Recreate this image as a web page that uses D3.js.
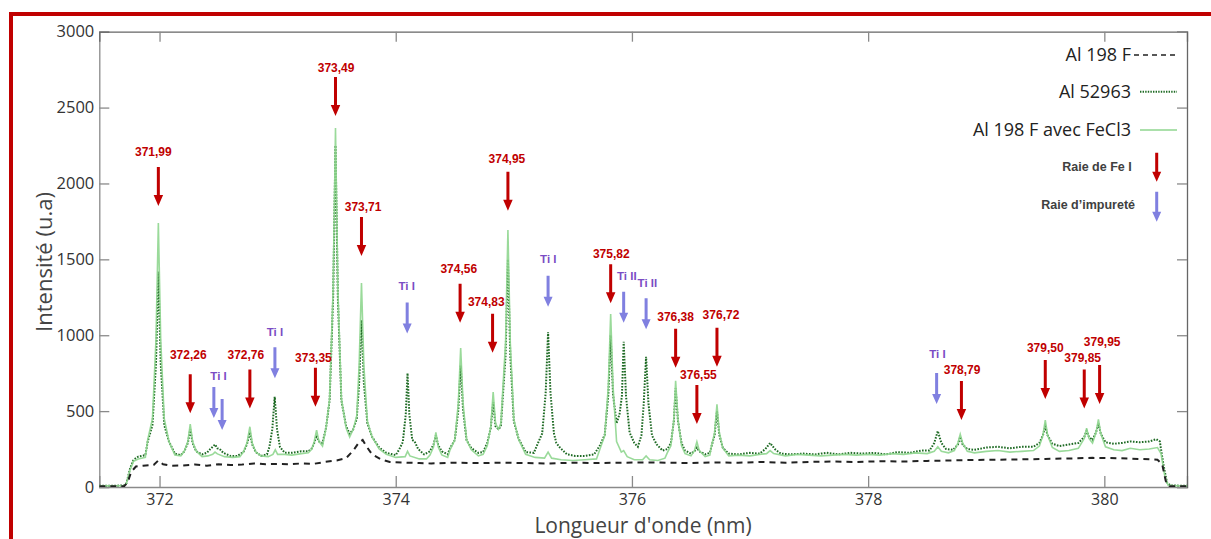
<!DOCTYPE html>
<html><head><meta charset="utf-8">
<script src="https://cdn.jsdelivr.net/npm/d3@7/dist/d3.min.js"></script>
<style>body{margin:0;background:#fff}svg{display:block}</style>
</head><body>
<svg id="chart" width="1211" height="539"></svg>
<script>
// ---- data ----
const xTicks = [372, 374, 376, 378, 380];
const yTicks = [0, 500, 1000, 1500, 2000, 2500, 3000];
const seriesNames = ["Al 198 F", "Al 52963", "Al 198 F avec FeCl3"];

// Al 198 F (dashed black)
const al198 = [[371.49,5],[371.70,5],[371.73,30],[371.76,100],[371.80,135],[371.86,140],[371.95,145],[371.99,175],[372.03,150],[372.1,140],[372.2,142],[372.3,148],[372.4,140],[372.5,150],[372.6,145],[372.7,148],[372.8,155],[372.9,150],[373.0,152],[373.1,150],[373.2,155],[373.3,152],[373.4,165],[373.5,175],[373.58,190],[373.64,240],[373.69,295],[373.72,310],[373.75,270],[373.8,215],[373.88,180],[373.95,165],[374.1,160],[374.2,158],[374.3,155],[374.5,160],[374.7,158],[374.9,160],[375.1,158],[375.3,155],[375.5,160],[375.7,158],[375.9,160],[376.1,162],[376.3,160],[376.5,158],[376.7,162],[376.9,160],[377.1,165],[377.3,160],[377.5,165],[377.7,168],[377.9,165],[378.1,170],[378.3,168],[378.5,172],[378.7,175],[378.9,178],[379.1,180],[379.3,182],[379.5,185],[379.7,188],[379.9,192],[380.1,190],[380.3,185],[380.45,180],[380.49,150],[380.52,40],[380.55,5],[380.70,5]];

// Al 52963 (dotted dark green)
const al52963 = [[371.49,8],[371.6,8],[371.70,10],[371.72,25],[371.75,120],[371.78,180],[371.82,200],[371.88,210],
[371.90,299],[371.94,408],[371.97,817],[371.99,1420],[372.01,817],[372.04,408],[372.08,299],
[372.13,220],[372.18,210],
[372.21,235],[372.24,290],[372.26,380],[372.28,290],[372.31,235],
[372.36,215],[372.40,225],
[372.43,250],[372.45,265],[372.47,280],[372.49,255],[372.51,250],[372.54,225],
[372.60,205],[372.66,205],
[372.71,230],[372.74,280],[372.765,360],[372.785,280],[372.815,230],
[372.86,205],[372.91,215],
[372.93,263],[372.955,380],[372.975,595],[372.995,380],[373.02,263],[373.06,225],
[373.12,225],[373.2,235],[373.26,235],
[373.29,255],[373.31,290],[373.33,340],[373.35,300],[373.38,290],
[373.41,390],[373.44,570],[373.47,1250],[373.49,2250],[373.51,1250],[373.54,570],[373.58,400],
[373.61,350],
[373.64,380],[373.67,450],[373.69,685],[373.71,1100],[373.73,685],[373.76,420],[373.80,330],
[373.86,260],[373.92,225],[374.0,210],
[374.03,248],[374.06,296],[374.085,480],[374.10,750],[374.115,480],[374.14,310],[374.16,300],[374.19,250],
[374.24,215],
[374.29,235],[374.32,280],[374.34,340],[374.36,275],[374.39,235],
[374.44,215],
[374.46,256],[374.50,309],[374.53,507],[374.55,800],[374.57,507],[374.60,309],[374.64,256],
[374.70,225],[374.74,230],
[374.775,290],[374.805,390],[374.825,560],[374.845,400],[374.87,380],
[374.89,400],[374.93,865],[374.95,1500],[374.97,865],[375.00,433],[375.04,319],
[375.10,230],[375.17,225],
[375.20,281],[375.24,352],[375.27,623],[375.29,1020],[375.31,623],[375.34,352],[375.36,290],[375.39,260],
[375.45,215],[375.52,205],[375.6,205],[375.68,215],
[375.73,275],[375.77,345],[375.80,610],[375.82,1000],[375.84,610],[375.87,420],
[375.895,480],[375.915,598],[375.93,957],[375.95,598],[375.98,360],[376.02,290],[376.05,265],
[376.08,339],[376.10,549],[376.12,858],[376.14,549],[376.17,339],[376.21,280],[376.26,240],
[376.30,250],[376.33,289],[376.355,435],[376.37,650],[376.39,435],[376.42,289],[376.45,240],
[376.50,220],
[376.53,235],[376.55,260],[376.57,235],
[376.62,215],[376.66,225],
[376.67,257],[376.70,343],[376.72,500],[376.74,343],[376.77,257],
[376.82,220],[376.9,215],[377.0,225],[377.08,220],[377.13,250],[377.17,290],[377.21,250],[377.26,220],[377.35,215],[377.45,220],[377.55,215],[377.65,225],[377.75,215],[377.85,225],[377.95,220],[378.05,225],[378.15,215],[378.25,230],[378.35,225],[378.45,240],[378.52,240],[378.56,290],[378.59,369],[378.62,290],[378.66,250],[378.72,245],
[378.76,280],[378.78,330],[378.80,280],[378.84,250],
[378.9,245],[379.0,260],[379.1,265],[379.2,255],[379.3,265],[379.4,265],[379.45,290],
[379.48,340],[379.50,400],[379.52,340],[379.56,285],
[379.62,270],[379.7,280],[379.78,290],
[379.83,330],[379.85,370],[379.87,330],[379.90,310],
[379.93,360],[379.95,420],[379.97,350],[380.01,295],
[380.08,285],[380.15,290],[380.22,300],[380.3,295],[380.38,300],[380.44,315],[380.47,300],[380.50,150],[380.53,30],[380.56,10],[380.70,8]];

// Al 198 F avec FeCl3 (solid light green)
const al198FeCl3 = [[371.49,8],[371.6,8],[371.70,10],[371.72,25],[371.75,110],[371.78,170],[371.82,185],[371.88,195],
[371.90,312],[371.94,450],[371.97,972],[371.99,1739],[372.01,972],[372.04,450],[372.08,300],
[372.13,210],[372.18,205],
[372.21,237],[372.24,300],[372.26,415],[372.28,300],[372.31,237],
[372.36,200],[372.41,205],
[372.45,215],[372.47,230],[372.49,218],
[372.55,200],[372.62,195],[372.68,200],
[372.71,230],[372.74,289],[372.765,397],[372.785,289],[372.815,230],
[372.86,205],[372.92,200],
[372.96,215],[372.98,245],[373.0,215],
[373.06,215],[373.12,210],[373.2,220],[373.26,225],
[373.29,250],[373.31,300],[373.33,375],[373.35,300],[373.38,270],
[373.41,389],[373.44,580],[373.47,1302],[373.49,2365],[373.51,1302],[373.54,580],[373.58,389],
[373.61,330],
[373.64,380],[373.67,470],[373.69,802],[373.71,1344],[373.73,802],[373.76,433],[373.80,330],
[373.86,250],[373.92,215],[374.0,195],
[374.08,200],[374.10,235],[374.12,205],
[374.2,185],[374.26,185],
[374.29,211],[374.32,264],[374.34,360],[374.36,264],[374.39,211],
[374.44,195],
[374.46,245],[374.50,310],[374.53,555],[374.55,915],[374.57,555],[374.60,310],[374.64,245],
[374.70,205],[374.74,215],
[374.775,272],[374.805,397],[374.825,625],[374.845,420],[374.87,380],
[374.89,420],[374.93,951],[374.95,1693],[374.97,951],[375.00,447],[375.04,314],
[375.10,215],[375.18,195],[375.26,190],
[375.29,230],[375.32,190],
[375.4,180],[375.5,175],[375.6,180],[375.7,185],
[375.73,252],[375.77,338],[375.80,663],[375.82,1140],[375.84,663],[375.87,300],[375.91,230],
[375.93,240],[375.96,200],
[376.02,180],[376.09,180],[376.12,205],[376.15,180],[376.22,175],[376.28,190],
[376.30,226],[376.33,272],[376.355,445],[376.37,700],[376.39,445],[376.42,272],[376.45,220],
[376.50,205],
[376.53,240],[376.55,298],[376.57,240],
[376.62,200],[376.66,210],
[376.67,256],[376.70,358],[376.72,545],[376.74,358],[376.77,256],
[376.82,205],[376.9,210],[377.0,205],[377.08,215],[377.14,220],[377.17,240],[377.2,220],[377.3,205],[377.4,215],[377.5,210],[377.6,205],[377.7,210],[377.8,215],[377.9,210],[378.0,215],[378.1,210],[378.2,220],[378.3,215],[378.4,225],[378.5,220],[378.56,235],[378.59,265],[378.62,235],[378.68,225],[378.73,240],
[378.76,290],[378.78,347],[378.80,290],[378.84,235],
[378.9,225],[379.0,235],[379.1,240],[379.2,230],[379.3,235],[379.4,240],[379.45,270],
[379.48,340],[379.50,441],[379.52,340],[379.56,260],
[379.62,235],[379.7,240],[379.78,255],
[379.83,320],[379.85,387],[379.87,320],[379.90,290],
[379.93,360],[379.95,446],[379.97,350],[380.01,265],
[380.08,245],[380.15,240],[380.22,255],[380.3,245],[380.38,250],[380.45,260],[380.48,220],[380.51,80],[380.54,12],[380.6,8],[380.70,8]];

// Fe I line annotations: wavelength, label, arrow tip intensity
const feLines = [[371.99,"371,99",1851],[372.26,"372,26",486],[372.765,"372,76",518],[373.32,"373,35",529],[373.49,"373,49",2444],[373.71,"373,71",1522],[374.545,"374,56",1082],[374.82,"374,83",885],[374.95,"374,95",1820],[375.82,"375,82",1210],[376.37,"376,38",786],[376.55,"376,55",415],[376.72,"376,72",792],[378.79,"378,79",441],[379.50,"379,50",580],[379.83,"379,85",518],[379.96,"379,95",547]];
// impurity line annotations: wavelength, label, arrow tip intensity
const tiLines = [[372.46,"Ti I",455],[372.53,"",375],[372.977,"Ti I",716],[374.097,"Ti I",1012],[375.29,"Ti I",1188],[375.93,"Ti II",1082],[376.12,"Ti II",1039],[378.58,"Ti I",547]];
// label offsets (layout): dx, dy above arrow top
const feLabelOffsets = [[-5,15],[-2,19],[-4,15],[-2,10],[0.6,9],[1.6,10.6],[-1.3,15],[-6.3,11.7],[-1,13.4],[0.6,10.7],[0,11.6],[1.5,10],[4,13],[0.7,11],[0,11.7],[-1.6,11.3],[2.6,22.7]];
const tiLabelOffsets = [[4.7,10.7],[0,0],[0,15],[-0.5,16.6],[0.2,16.7],[3.2,16],[1.3,15],[0.8,18.7]];

// ---- layout ----
const svg = d3.select("#chart");
const L = 99.3, R = 1187, T = 31.7, B = 487;
const x = d3.scaleLinear().domain([371.49, 380.70]).range([L, R]);
const y = d3.scaleLinear().domain([0, 3000]).range([B, T]);

// red frame
svg.append("rect").attr("x",9).attr("y",12).attr("width",1202).attr("height",4).attr("fill","#c00000");
svg.append("rect").attr("x",9).attr("y",12).attr("width",4).attr("height",527).attr("fill","#c00000");

svg.append("clipPath").attr("id","clip").append("rect").attr("x",L).attr("y",T).attr("width",R-L).attr("height",B-T);

// axes
const axColor = "#8a8a8a";
const gB = svg.append("g").attr("transform",`translate(0,${B})`).call(d3.axisBottom(x).tickValues(xTicks).tickSize(-11).tickPadding(6.5).tickFormat(d3.format("d")));
const gL = svg.append("g").attr("transform",`translate(${L},0)`).call(d3.axisLeft(y).tickValues(yTicks).tickSize(-10).tickPadding(5).tickFormat(d3.format("d")));
const gT = svg.append("g").attr("transform",`translate(0,${T})`).call(d3.axisTop(x).tickValues(xTicks).tickSize(-10).tickFormat(""));
const gR = svg.append("g").attr("transform",`translate(${R},0)`).call(d3.axisRight(y).tickValues(yTicks).tickSize(-10).tickFormat(""));
[gB,gL,gT,gR].forEach(g=>{
  g.select(".domain").attr("stroke",axColor).attr("stroke-width",1.3);
  g.selectAll(".tick line").attr("stroke",axColor).attr("stroke-width",1.3);
  g.selectAll(".tick text").attr("fill","#333").style("font-family","'Open Sans', sans-serif").style("font-size","16.5px");
});
gB.selectAll(".tick text").style("font-size","16px");
gT.select(".domain").attr("stroke","#666");
gR.select(".domain").attr("stroke","#666");

// titles
svg.append("text").attr("x",643).attr("y",533).attr("text-anchor","middle").attr("fill","#444")
  .style("font-family","'Open Sans', sans-serif").style("font-size","21px").text("Longueur d'onde (nm)");
svg.append("text").attr("transform","translate(44,262) rotate(-90)").attr("text-anchor","middle").attr("dy","0.35em").attr("fill","#444")
  .style("font-family","'Open Sans', sans-serif").style("font-size","22px").text("Intensité (u.a)");

// series
const line = d3.line().x(d=>x(d[0])).y(d=>y(d[1]));
const plot = svg.append("g").attr("clip-path","url(#clip)");
plot.append("path").datum(al52963).attr("d",line).attr("fill","none").attr("stroke","#1f6b25").attr("stroke-width",2).attr("stroke-dasharray","1.6,1.4");
plot.append("path").datum(al198FeCl3).attr("d",line).attr("fill","none").attr("stroke","#8fd68f").attr("stroke-width",1.6).attr("stroke-opacity",0.9);
plot.append("path").datum(al198).attr("d",line).attr("fill","none").attr("stroke","#222").attr("stroke-width",2).attr("stroke-dasharray","6,5");

// arrows
function arrow(g, cx, tipY, len, color, shaftW, headW, headH){
  const top = tipY - len;
  g.append("path").attr("d",
    `M${cx-shaftW/2},${top} L${cx+shaftW/2},${top} L${cx+shaftW/2},${tipY-headH} L${cx+headW/2},${tipY-headH} L${cx},${tipY} L${cx-headW/2},${tipY-headH} L${cx-shaftW/2},${tipY-headH} Z`)
   .attr("fill",color);
  return top;
}
const ann = svg.append("g");
feLines.forEach((d,i)=>{
  const cx = x(d[0]), tip = y(d[2]);
  const top = arrow(ann, cx, tip, 39, "#c00000", 3, 9.5, 11);
  const o = feLabelOffsets[i];
  ann.append("text").attr("x",cx+o[0]).attr("y",top-o[1]).attr("dy","0.35em").attr("text-anchor","middle")
    .attr("fill","#c00000").style("font-family","'Liberation Sans', Arial, sans-serif").style("font-weight","bold").style("font-size","12px").text(d[1]);
});
tiLines.forEach((d,i)=>{
  const cx = x(d[0]), tip = y(d[2]);
  const top = arrow(ann, cx, tip, 31, "#8080e0", 3, 9, 10);
  const o = tiLabelOffsets[i];
  if (d[1]) ann.append("text").attr("x",cx+o[0]).attr("y",top-o[1]).attr("dy","0.35em").attr("text-anchor","middle")
    .attr("fill","#7a4cc4").style("font-family","'Liberation Sans', Arial, sans-serif").style("font-weight","bold").style("font-size","11.5px").text(d[1]);
});

// legend
const leg = svg.append("g");
const legY = [55, 91.7, 130];
const legStyles = [
  {stroke:"#222", w:1.6, dash:"5,4"},
  {stroke:"#1f6b25", w:2, dash:"1.4,1.2"},
  {stroke:"#8fd68f", w:1.6, dash:null}
];
seriesNames.forEach((n,i)=>{
  leg.append("text").attr("x",1131).attr("y",legY[i]).attr("dy","0.35em").attr("text-anchor","end").attr("fill","#222")
    .style("font-family","'Open Sans', sans-serif").style("font-size","18px").text(n);
  const l = leg.append("line").attr("x1",i===0?1134:1140).attr("x2",1177).attr("y1",legY[i]).attr("y2",legY[i])
    .attr("stroke",legStyles[i].stroke).attr("stroke-width",legStyles[i].w);
  if (legStyles[i].dash) l.attr("stroke-dasharray",legStyles[i].dash);
});
leg.append("text").attr("x",1131.7).attr("y",166.7).attr("dy","0.35em").attr("text-anchor","end").attr("fill","#404040")
  .style("font-family","'Liberation Sans', Arial, sans-serif").style("font-weight","bold").style("font-size","12.5px").text("Raie de Fe I");
arrow(leg, 1156.7, 181.7, 29, "#c00000", 3, 9, 10);
leg.append("text").attr("x",1135).attr("y",205).attr("dy","0.35em").attr("text-anchor","end").attr("fill","#404040")
  .style("font-family","'Liberation Sans', Arial, sans-serif").style("font-weight","bold").style("font-size","12.5px").text("Raie d’impureté");
arrow(leg, 1156.7, 221.7, 30, "#8080e0", 3, 9, 10);
</script>
</body></html>
